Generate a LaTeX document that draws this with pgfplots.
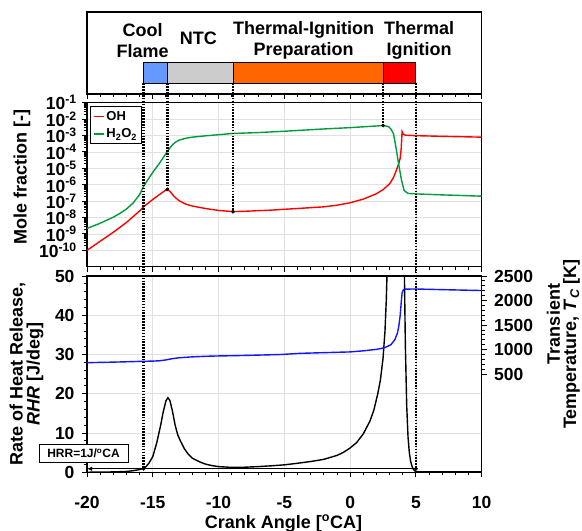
\documentclass[border=0pt]{standalone}
\usepackage{fontspec}
\setmainfont{Liberation Sans}
\usepackage{pgfplots}
\pgfplotsset{compat=1.18}
\usetikzlibrary{arrows.meta}

\definecolor{cfblue}{RGB}{102,153,255}
\definecolor{ntcgray}{RGB}{204,204,204}
\definecolor{tiporange}{RGB}{255,102,0}
\definecolor{tired}{RGB}{255,0,0}
\definecolor{ohred}{RGB}{255,0,0}
\definecolor{hgreen}{RGB}{0,155,60}
\definecolor{tblue}{RGB}{20,20,255}
\definecolor{gridgray}{RGB}{225,225,225}

\newcommand{\tf}{\bfseries\fontsize{17.5}{20}\selectfont}
\newcommand{\lf}{\bfseries\fontsize{18}{21}\selectfont}

\tikzset{mydots/.style={line width=2.8pt, dash pattern=on 1.6pt off 1.3pt}}
\pgfplotsset{
	panel/.style={
		scale only axis, width=394.7pt, anchor=north west,
		xmin=-20, xmax=10,
		xtick={-20,-15,...,10}, minor x tick num=4,
		tick align=outside, tick pos=left,
		major tick length=5pt, minor tick length=3pt,
		every tick/.style={black, line width=0.9pt},
		axis line style={line width=1.2pt},
		tick label style={font=\tf},
		major grid style={gridgray, line width=0.6pt},
		clip mode=individual,
	},
}

\begin{document}
\begin{tikzpicture}
\useasboundingbox (0,0) rectangle (582pt,-531pt);

% phase bar
\begin{axis}[panel, at={(87pt,-12pt)}, height=82pt,
	ymin=0, ymax=1, ytick=\empty, xticklabels=\empty]
\addplot[fill=cfblue, draw=black, line width=1pt] coordinates {(-15.7,0.13) (-13.9,0.13) (-13.9,0.382) (-15.7,0.382)} -- cycle;
\addplot[fill=ntcgray, draw=black, line width=1pt] coordinates {(-13.9,0.13) (-8.9,0.13) (-8.9,0.382) (-13.9,0.382)} -- cycle;
\addplot[fill=tiporange, draw=black, line width=1pt] coordinates {(-8.9,0.13) (2.5,0.13) (2.5,0.382) (-8.9,0.382)} -- cycle;
\addplot[fill=tired, draw=black, line width=1pt] coordinates {(2.5,0.13) (5.0,0.13) (5.0,0.382) (2.5,0.382)} -- cycle;
\node[font=\lf, align=center] at (axis cs:-15.77,0.65) {Cool\\Flame};
\node[font=\lf] at (axis cs:-11.53,0.68) {NTC};
\node[font=\lf, align=center] at (axis cs:-3.53,0.65) {Thermal-Ignition\\Preparation};
\node[font=\lf, align=center] at (axis cs:5.24,0.65) {Thermal\\Ignition};
\coordinate (t1) at (axis cs:-15.7,0.13);
\coordinate (t2) at (axis cs:-13.9,0.13);
\coordinate (t3) at (axis cs:-8.9,0.13);
\coordinate (t4) at (axis cs:2.5,0.13);
\coordinate (t5) at (axis cs:5.0,0.13);
\end{axis}

% mole fractions
\begin{axis}[panel, at={(87pt,-102.7pt)}, height=164pt,
	ymode=log, ymin=1e-11, ymax=1e-1,
	ytick={1e-10,1e-9,1e-8,1e-7,1e-6,1e-5,1e-4,1e-3,1e-2,1e-1},
	yticklabels={10\textsuperscript{-10},10\textsuperscript{-9},10\textsuperscript{-8},10\textsuperscript{-7},10\textsuperscript{-6},10\textsuperscript{-5},10\textsuperscript{-4},10\textsuperscript{-3},10\textsuperscript{-2},10\textsuperscript{-1}},
	yticklabel style={inner sep=0pt, xshift=-5pt},
	xticklabels=\empty, grid=major,
	legend style={at={(0.008,0.978)}, anchor=north west, draw=black, line width=0.9pt,
		font=\bfseries\fontsize{13}{15}\selectfont, row sep=3pt, inner sep=2.5pt},
	legend cell align=left,
	legend image code/.code={\draw[#1, line width=1.3pt] (0pt,0pt) -- (10pt,0pt);},
	]
\addplot[ohred, line width=1.4pt] coordinates {
(-20,1e-10) (-19,3.55e-10) (-18,1.26e-9) (-17,5.01e-9) (-16,2.51e-8) (-15.7,4.47e-8)
(-15,1.26e-7) (-14.5,2.51e-7) (-14.1,4.17e-7) (-13.9,5.13e-7) (-13.7,3.98e-7) (-13.4,2.0e-7)
(-13,1.05e-7) (-12.5,6.61e-8) (-12,5.01e-8) (-11,3.55e-8) (-10,2.69e-8) (-8.9,2.29e-8)
(-8,2.40e-8) (-6,2.82e-8) (-4,3.55e-8) (-2,4.47e-8) (-1,5.62e-8) (0,7.94e-8) (1,1.32e-7)
(2,2.82e-7) (2.5,5.01e-7) (3,1.12e-6) (3.3,2.82e-6) (3.5,7.08e-6) (3.7,2.0e-5) (3.8,3.98e-5)
(3.88,1.58e-4) (3.95,1.74e-3) (4.05,1.20e-3) (4.2,1.05e-3) (5,9.77e-4) (7,8.91e-4) (10,7.94e-4)
};
\addlegendentry{OH}
\addplot[hgreen, line width=1.4pt] coordinates {
(-20,2.14e-9) (-19,4.47e-9) (-18,1.05e-8) (-17.5,1.78e-8) (-17,3.31e-8) (-16.5,7.59e-8)
(-16,2.51e-7) (-15.7,7.94e-7) (-15.3,2.51e-6) (-15,5.62e-6) (-14.5,2.0e-5) (-14,7.94e-5)
(-13.9,1.07e-4) (-13.6,2.24e-4) (-13.3,3.80e-4) (-13,5.25e-4) (-12.5,6.76e-4) (-12,7.94e-4)
(-11,9.55e-4) (-10,1.12e-3) (-9,1.32e-3) (-7,1.51e-3) (-5,1.82e-3) (-2,2.51e-3) (0,3.02e-3)
(2,3.80e-3) (2.5,4.07e-3) (2.9,3.55e-3) (3.1,2.51e-3) (3.3,1.26e-3) (3.5,1.58e-4) (3.7,1.58e-5)
(3.9,2.0e-6) (4.1,4.47e-7) (4.4,2.95e-7) (5,2.75e-7) (7,2.40e-7) (10,2.0e-7)
};
\addlegendentry{H\textsubscript{2}O\textsubscript{2}}
\addplot[only marks, mark=*, mark size=1.7pt, black, forget plot] coordinates {(-13.9,5.13e-7) (-8.9,2.29e-8) (2.5,4.07e-3)};
\coordinate (m2) at (axis cs:-13.9,5.13e-7);
\coordinate (m3) at (axis cs:-8.9,2.29e-8);
\coordinate (m4) at (axis cs:2.5,4.07e-3);
\end{axis}

% heat release
\begin{axis}[panel, at={(87pt,-276pt)}, height=196.3pt,
	ymin=0, ymax=50, ytick={0,10,...,50}, minor y tick num=4,
	yticklabels={0,10,20,30,40,50},
	yticklabel style={xshift=-4pt},
	xticklabels={-20,-15,-10,-5,0,5,10},
	xticklabel style={inner sep=0pt, yshift=-18.5pt},
	grid=major]
\addplot[black, line width=1.4pt] coordinates {
(-20,0.02) (-19,0.05) (-18,0.1) (-17,0.22) (-16.5,0.4) (-16,0.7) (-15.7,1.0) (-15.5,1.5)
(-15.3,2.3) (-15.0,4.0) (-14.7,7.5) (-14.4,12) (-14.2,15.5) (-14.0,18.2) (-13.85,19.0)
(-13.7,18.3) (-13.5,15.5) (-13.3,12) (-13.1,9.5) (-12.9,8) (-12.6,6) (-12.3,4.6) (-12,3.6)
(-11.4,2.6) (-11,2.1) (-10.5,1.7) (-10,1.45) (-9,1.25) (-8,1.3) (-7,1.45) (-6,1.65) (-5,1.9)
(-4,2.3) (-3,2.75) (-2,3.3) (-1,4.3) (-0.5,5.1) (0,6.2) (0.5,7.6) (1,9.8) (1.5,13) (1.8,15.8)
(2.1,20) (2.3,23.5) (2.5,29) (2.65,36) (2.75,44) (2.8,50) (2.85,56) (3.0,60) (4.0,60) (4.1,60)
(4.12,52) (4.15,44) (4.2,32) (4.3,17) (4.4,9) (4.5,5) (4.6,2.8) (4.7,1.6) (4.8,0.8) (4.9,0.4)
(5.0,0.2) (5.5,0.1) (7,0.1) (10,0.15)
};
\addplot[black, line width=1.3pt, {Latex[length=5pt,width=4.5pt]}-] coordinates {(-20,0.9) (5,0.9)};
\addplot[only marks, mark=*, mark size=1.7pt, black] coordinates {(-15.7,0.9) (5.0,0.9)};
\coordinate (b1) at (axis cs:-15.7,0.9);
\coordinate (b5) at (axis cs:5.0,0.9);
\end{axis}

% temperature
\begin{axis}[panel, at={(87pt,-276pt)}, height=196.3pt,
	axis x line=none, axis y line*=right,
	ytick pos=right, yticklabel pos=right,
	ymin=-1500, ymax=2500, ytick={500,1000,...,2500}, minor y tick num=4,
	yticklabels={500,1000,1500,2000,2500},
	yticklabel style={xshift=4pt}]
\addplot[tblue, line width=1.4pt] coordinates {
(-20,734) (-18,745) (-17,752) (-16,760) (-15,766) (-14.5,772) (-14,790) (-13.6,812) (-13,834)
(-12,852) (-11,864) (-10,871) (-8.9,876) (-7,888) (-5.3,900) (-3.8,924) (-2,938) (0,953)
(1,975) (2,1005) (2.6,1036) (3.1,1100) (3.4,1204) (3.6,1340) (3.7,1480) (3.8,1684) (3.88,1950)
(3.95,2156) (4.05,2220) (4.2,2232) (4.9,2236) (7,2222) (10,2204)
};
\end{axis}

\draw[mydots] (t1) -- (b1);
\draw[mydots] (t2) -- (m2);
\draw[mydots] (t3) -- (m3);
\draw[mydots] (t4) -- (m4);
\draw[mydots] (t5) -- (b5);

\node[font=\lf, rotate=90] at (22pt,-177pt) {Mole fraction [-]};
\node[font=\bfseries\fontsize{18}{17}\selectfont, rotate=90, align=center] at (26.5pt,-374pt) {Rate of Heat Release,\\\textit{RHR} [J/deg]};
\node[font=\lf, rotate=90] at (553.5pt,-324pt) {Transient};
\node[font=\lf, rotate=90] at (571.5pt,-344pt) {Temperature, \textit{T}\textsubscript{\textit{C}} [K]};
\node[font=\lf, anchor=base, inner sep=0pt] at (283.5pt,-528pt) {Crank Angle [\textsuperscript{o}CA]};
\node[draw, line width=1pt, fill=white, font=\bfseries\fontsize{12}{14}\selectfont,
	inner sep=3pt, minimum height=18pt, minimum width=89pt] at (83.5pt,-453.5pt) {HRR=1J/\textsuperscript{o}CA};
\end{tikzpicture}
\end{document}
